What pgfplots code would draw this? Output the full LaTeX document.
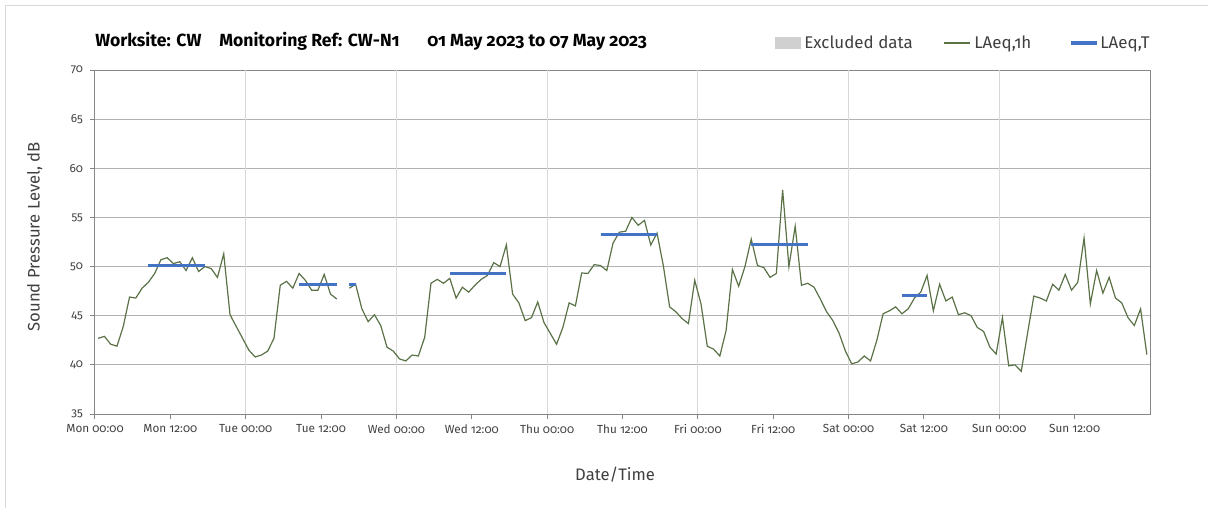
\documentclass[border=0pt]{standalone}
\usepackage{fontspec}
\setmainfont{Fira Sans}[Numbers=OldStyle]
\usepackage{pgfplots}
\usepackage{pgfplotstable}
\pgfplotsset{compat=1.18}
\definecolor{lineg}{RGB}{90,114,70}
\definecolor{laeqt}{RGB}{68,114,196}
\definecolor{axgray}{RGB}{134,134,134}
\definecolor{hgrid}{RGB}{178,178,178}
\definecolor{vgrid}{RGB}{217,217,217}
\definecolor{framec}{RGB}{217,217,217}
\definecolor{txt}{RGB}{64,64,64}
\definecolor{excl}{RGB}{208,208,208}

\pgfplotstableread{
h db
0.5 42.7
1.5 42.9
2.5 42.1
3.5 41.9
4.5 43.9
5.5 46.9
6.5 46.8
7.5 47.8
8.5 48.4
9.5 49.3
10.5 50.7
11.5 50.9
12.5 50.3
13.5 50.5
14.5 49.6
15.5 50.9
16.5 49.5
17.5 50.0
18.5 49.8
19.5 48.9
20.5 51.3
21.5 45.1
22.5 43.9
23.5 42.7
24.5 41.5
25.5 40.8
26.5 41.0
27.5 41.4
28.5 42.7
29.5 48.1
30.5 48.5
31.5 47.8
32.5 49.3
33.5 48.6
34.5 47.6
35.5 47.6
36.5 49.2
37.5 47.2
38.5 46.7
39.5 nan
40.5 47.8
41.5 48.2
42.5 45.7
43.5 44.4
44.5 45.1
45.5 44.0
46.5 41.8
47.5 41.4
48.5 40.6
49.5 40.4
50.5 41.0
51.5 40.9
52.5 42.8
53.5 48.3
54.5 48.7
55.5 48.3
56.5 48.8
57.5 46.8
58.5 47.9
59.5 47.4
60.5 48.1
61.5 48.7
62.5 49.1
63.5 50.4
64.5 50.0
65.5 52.2
66.5 47.2
67.5 46.3
68.5 44.5
69.5 44.8
70.5 46.4
71.5 44.3
72.5 43.2
73.5 42.1
74.5 43.8
75.5 46.3
76.5 46.0
77.5 49.35
78.5 49.3
79.5 50.2
80.5 50.1
81.5 49.6
82.5 52.4
83.5 53.5
84.5 53.6
85.5 55.0
86.5 54.2
87.5 54.7
88.5 52.2
89.5 53.4
90.5 50.1
91.5 45.9
92.5 45.4
93.5 44.7
94.5 44.2
95.5 48.6
96.5 46.2
97.5 41.9
98.5 41.6
99.5 40.9
100.5 43.5
101.5 49.7
102.5 48.0
103.5 50.0
104.5 52.8
105.5 50.1
106.5 49.9
107.5 48.9
108.5 49.3
109.5 57.8
110.5 50.0
111.5 54.1
112.5 48.1
113.5 48.3
114.5 47.9
115.5 46.7
116.5 45.4
117.5 44.5
118.5 43.2
119.5 41.4
120.5 40.1
121.5 40.3
122.5 40.9
123.5 40.4
124.5 42.5
125.5 45.2
126.5 45.5
127.5 45.9
128.5 45.2
129.5 45.7
130.5 46.8
131.5 47.4
132.5 49.1
133.5 45.5
134.5 48.2
135.5 46.5
136.5 46.9
137.5 45.1
138.5 45.3
139.5 45.0
140.5 43.8
141.5 43.4
142.5 41.8
143.5 41.1
144.5 44.8
145.5 39.9
146.5 40.0
147.5 39.35
148.5 43.2
149.5 47.0
150.5 46.8
151.5 46.5
152.5 48.2
153.5 47.6
154.5 49.2
155.5 47.6
156.5 48.4
157.5 52.9
158.5 46.2
159.5 49.6
160.5 47.3
161.5 48.9
162.5 46.8
163.5 46.3
164.5 44.8
165.5 44.0
166.5 45.7
167.5 41.05
}\hourly

\pgfplotstableread{
h db
8.5 50.1
17.5 50.1
18 nan
32.5 48.2
38.5 48.2
39.5 nan
40.5 48.2
41.5 48.2
42 nan
56.5 49.3
65.5 49.3
66 nan
80.5 53.3
89.5 53.3
90 nan
104.5 52.2
113.5 52.2
114 nan
128.5 47.1
132.5 47.1
}\laeqT

\begin{document}
\begin{tikzpicture}[x=0.75pt,y=0.75pt]
\path[use as bounding box] (0,0) rectangle (1208,508);
\draw[framec, line width=0.75pt] (5,0) -- (5,502) -- (1208,502);
\begin{axis}[
  at={(71.25pt,70.5pt)}, anchor=south west,
  scale only axis, width=791.25pt, height=258pt,
  xmin=0, xmax=168, ymin=35, ymax=70,
  xtick={0,12,...,156},
  xticklabels={Mon 00:00,Mon 12:00,Tue 00:00,Tue 12:00,Wed 00:00,Wed 12:00,Thu 00:00,Thu 12:00,Fri 00:00,Fri 12:00,Sat 00:00,Sat 12:00,Sun 00:00,Sun 12:00},
  ytick={35,40,...,70},
  xtick pos=lower, ytick pos=left,
  tick align=outside, major tick length=3.5pt,
  ymajorgrids,
  grid style={hgrid, line width=0.75pt},
  axis line style={axgray, line width=0.75pt},
  tick style={axgray, line width=0.75pt},
  ticklabel style={font=\fontsize{8.8}{10}\selectfont, text=txt},
  /pgf/number format/assume math mode=true,
  yticklabel style={xshift=-2pt},
  xticklabel style={yshift=-1pt},
  extra x ticks={24,48,72,96,120,144},
  extra x tick labels={},
  extra x tick style={xmajorgrids=true, major grid style={vgrid, line width=0.75pt}},
  unbounded coords=jump,
  xlabel={Date/Time},
  ylabel={Sound Pressure Level, dB},
  label style={font=\fontsize{12.5}{14}\selectfont, text=txt},
  xlabel style={at={(axis description cs:0.493,-0.176)}, anchor=center},
  ylabel style={at={(axis description cs:-0.057,0.515)}, anchor=center, rotate=0},
]
\addplot[lineg, line width=0.9pt] table[x=h, y=db] {\hourly};
\addplot[laeqt, line width=2.3pt] table[x=h, y=db] {\laeqT};
\end{axis}
% title
\begin{scope}[every node/.style={font=\fontsize{13.2}{15}\selectfont\bfseries, text=black, inner sep=0pt, anchor=base west}]
\node at (95,461) {Worksite: CW};
\node at (219,461) {Monitoring Ref: CW-N1};
\node at (427,461) {01 May 2023 to 07 May 2023};
\end{scope}
% legend
\fill[excl] (775,459) rectangle (801,471);
\draw[lineg, line width=0.9pt] (944,465) -- (970,465);
\draw[laeqt, line width=2.3pt] (1071,465) -- (1097,465);
\begin{scope}[every node/.style={font=\fontsize{12.7}{14}\selectfont, text=txt, inner sep=0pt, anchor=base west}]
\node at (804,459) {Excluded data};
\node at (974,459) {LAeq,1h};
\node at (1100,459) {LAeq,T};
\end{scope}
\end{tikzpicture}
\end{document}
